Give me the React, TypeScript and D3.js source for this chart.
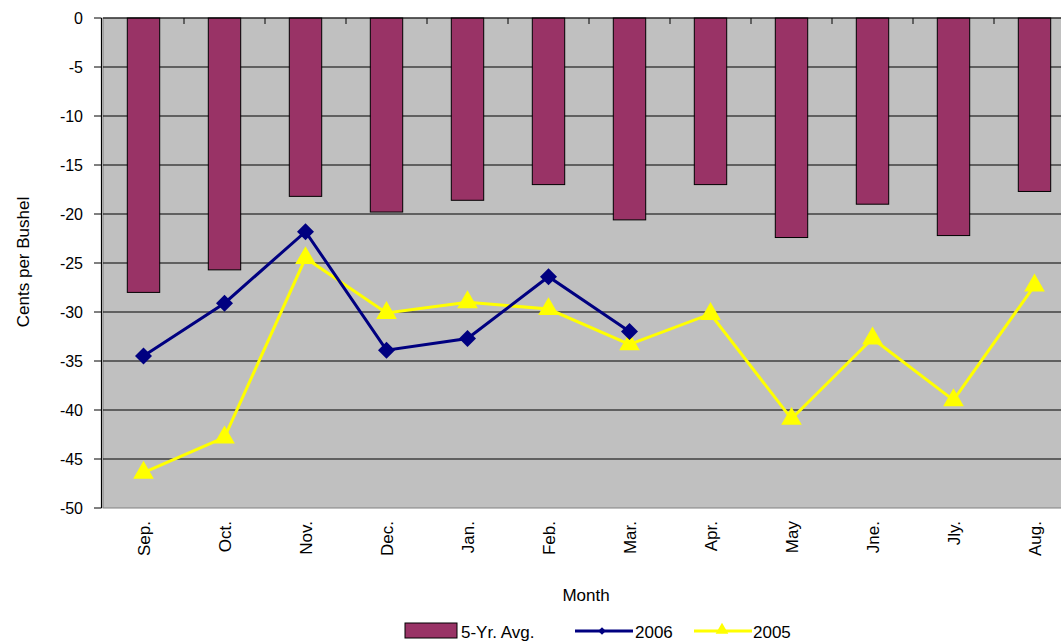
import React from "react";
import * as d3 from "d3";

const months = ["Sep.", "Oct.", "Nov.", "Dec.", "Jan.", "Feb.", "Mar.", "Apr.", "May", "Jne.", "Jly.", "Aug."];
const avg5yr = [-28.0, -25.7, -18.2, -19.8, -18.6, -17.0, -20.6, -17.0, -22.4, -19.0, -22.2, -17.7];
const y2006 = [-34.5, -29.1, -21.8, -33.9, -32.7, -26.4, -32.0];
const y2005 = [-46.4, -42.8, -24.5, -30.1, -29.0, -29.7, -33.3, -30.2, -40.9, -32.7, -39.0, -27.3];
const yTicks = [0, -5, -10, -15, -20, -25, -30, -35, -40, -45, -50];

const FONT = "Liberation Sans, Arial, sans-serif";

export default function App() {
  const left = 103;
  const right = 1075;
  const top = 18;
  const bottom = 508;

  const x = d3.scaleBand().domain(months).range([left, right]).paddingInner(0).paddingOuter(0);
  const y = d3.scaleLinear().domain([0, -50]).range([top, bottom]);
  const barW = x.bandwidth() / 2.5;
  const cx = (m: string) => (x(m) as number) + x.bandwidth() / 2;

  const line = d3
    .line<number>()
    .x((d, i) => cx(months[i]))
    .y((d) => y(d));

  // Excel style diamond = square turned 45 degrees
  const diamond = d3.symbol().type(d3.symbolSquare).size(145)();
  const triangle = d3.symbol().type(d3.symbolTriangle).size(185)();

  return (
    <svg
      width={1061}
      height={641}
      style={{ position: "absolute", left: 0, top: 0, background: "#fff" }}
      fontFamily={FONT}
    >
      {/* plot background */}
      <rect x={left} y={top} width={right - left} height={bottom - top} fill="#C0C0C0" stroke="#808080" />

      {/* gridlines */}
      {yTicks.slice(1, -1).map((t) => (
        <line key={t} x1={left} x2={right} y1={y(t)} y2={y(t)} stroke="#000" strokeWidth={1} />
      ))}

      {/* bars */}
      {months.map((m, i) => (
        <rect
          key={m}
          x={cx(m) - barW / 2}
          y={y(0)}
          width={barW}
          height={y(avg5yr[i]) - y(0)}
          fill="#993366"
          stroke="#000"
          strokeWidth={1}
        />
      ))}

      {/* category axis at zero */}
      <line x1={left} x2={right} y1={y(0)} y2={y(0)} stroke="#000" strokeWidth={1.2} />
      {months.slice(1).map((m) => (
        <line key={m} x1={x(m) as number} x2={x(m) as number} y1={y(0)} y2={y(0) + 6} stroke="#000" />
      ))}

      {/* value axis */}
      <line x1={left - 1.5} x2={left - 1.5} y1={top} y2={bottom} stroke="#000" strokeWidth={1.2} />
      {yTicks.map((t) => (
        <g key={t}>
          <line x1={left - 9} x2={left - 1.5} y1={y(t)} y2={y(t)} stroke="#000" />
          <text x={left - 20} y={y(t)} dy="0.35em" textAnchor="end" fontSize={16}>
            {t}
          </text>
        </g>
      ))}

      {/* 2005 line */}
      <path d={line(y2005) || ""} fill="none" stroke="#FFFF00" strokeWidth={3} />
      {y2005.map((v, i) => (
        <path key={i} d={triangle || ""} transform={`translate(${cx(months[i])},${y(v)})`} fill="#FFFF00" />
      ))}

      {/* 2006 line */}
      <path d={line(y2006) || ""} fill="none" stroke="#000080" strokeWidth={3} />
      {y2006.map((v, i) => (
        <path
          key={i}
          d={diamond || ""}
          transform={`translate(${cx(months[i])},${y(v)}) rotate(45)`}
          fill="#000080"
        />
      ))}

      {/* category labels */}
      {months.map((m) => (
        <text
          key={m}
          transform={`translate(${cx(m) + 6},521) rotate(-90)`}
          textAnchor="end"
          fontSize={17}
        >
          {m}
        </text>
      ))}

      {/* axis titles */}
      <text x={586} y={601} textAnchor="middle" fontSize={17}>
        Month
      </text>
      <text transform="translate(29,262) rotate(-90)" textAnchor="middle" fontSize={17}>
        Cents per Bushel
      </text>

      {/* legend */}
      <rect x={405} y={623} width={52} height={15} fill="#993366" stroke="#000" />
      <text x={461} y={638} fontSize={17}>5-Yr. Avg.</text>
      <line x1={575} x2={633} y1={631} y2={631} stroke="#000080" strokeWidth={3} />
      <path
        d={d3.symbol().type(d3.symbolSquare).size(30)() || ""}
        transform="translate(602,631) rotate(45)"
        fill="#000080"
      />
      <text x={635} y={638} fontSize={17}>2006</text>
      <line x1={694} x2={752} y1={631} y2={631} stroke="#FFFF00" strokeWidth={3} />
      <path d={d3.symbol().type(d3.symbolTriangle).size(70)() || ""} transform="translate(722,630)" fill="#FFFF00" />
      <text x={753} y={638} fontSize={17}>2005</text>
    </svg>
  );
}
